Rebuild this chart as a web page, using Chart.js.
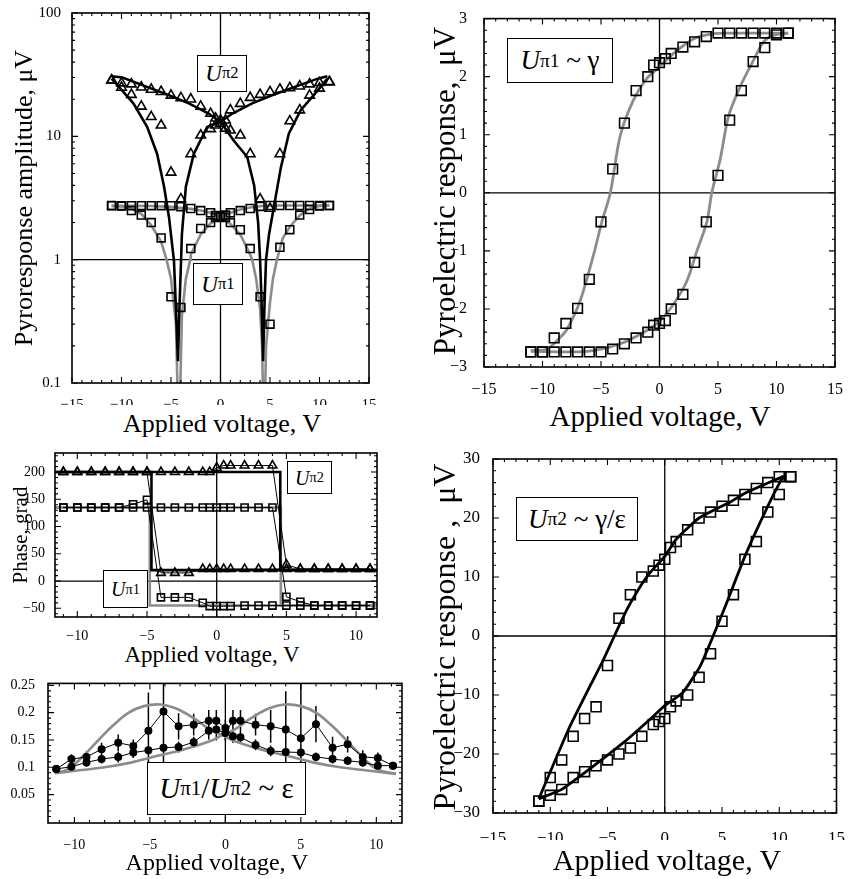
<!DOCTYPE html>
<html>
<head>
<meta charset="utf-8">
<script src="https://cdn.jsdelivr.net/npm/chart.js@4.4.1/dist/chart.umd.min.js"></script>
<style>
body{margin:0;background:#fff;width:852px;height:879px;position:relative;overflow:hidden;font-family:"Liberation Serif","Times New Roman",serif;color:#000;}
canvas{position:absolute;}
.lab{position:absolute;white-space:nowrap;line-height:1;transform:translate(-50%,-50%);}
.rot{transform:translate(-50%,-50%) rotate(-90deg);}
.box{position:absolute;background:#fff;border:1.5px solid #000;box-sizing:border-box;display:flex;align-items:center;justify-content:center;white-space:nowrap;line-height:1;}
.box sub{font-size:0.72em;vertical-align:-0.32em;}
</style>
</head>
<body>
<canvas id="amp" width="385" height="405" style="left:0;top:0"></canvas>
<canvas id="gam" width="432" height="395" style="left:420px;top:0"></canvas>
<canvas id="phase" width="395" height="200" style="left:0;top:440px"></canvas>
<canvas id="ratio" width="415" height="180" style="left:0;top:670px"></canvas>
<canvas id="u2" width="432" height="400" style="left:420px;top:440px"></canvas>

<div class="lab rot" style="left:24px;top:198px;font-size:26px">Pyroresponse amplitude, μV</div>
<div class="lab" style="left:222px;top:424px;font-size:26px">Applied voltage, V</div>
<div class="lab rot" style="left:444px;top:191px;font-size:31px">Pyroelectric response,&nbsp; μV</div>
<div class="lab" style="left:660px;top:416px;font-size:29px">Applied voltage, V</div>
<div class="lab rot" style="left:20px;top:535px;font-size:21px">Phase, grad</div>
<div class="lab" style="left:212px;top:654px;font-size:23px">Applied voltage, V</div>
<div class="lab" style="left:217px;top:862px;font-size:24px">Applied voltage, V</div>
<div class="lab rot" style="left:444px;top:637px;font-size:32px">Pyroelectric response ,&nbsp; μV</div>
<div class="lab" style="left:667px;top:860px;font-size:30px">Applied voltage, V</div>

<div class="box" style="left:197px;top:55px;width:50px;height:37px;font-size:23px"><i>U</i><sub>π2</sub></div>
<div class="box" style="left:193px;top:263px;width:50px;height:42px;font-size:23px"><i>U</i><sub>π1</sub></div>
<div class="box" style="left:507px;top:38px;width:106px;height:45px;font-size:27px"><i>U</i><sub>π1</sub>&nbsp;~ γ</div>
<div class="box" style="left:287px;top:461px;width:45px;height:33px;font-size:20px"><i>U</i><sub>π2</sub></div>
<div class="box" style="left:103px;top:570px;width:45px;height:38px;font-size:20px"><i>U</i><sub>π1</sub></div>
<div class="box" style="left:147px;top:762px;width:159px;height:53px;font-size:29px"><i>U</i><sub>π1</sub>/<i>U</i><sub>π2</sub>&nbsp;~ ε</div>
<div class="box" style="left:516px;top:497px;width:122px;height:44px;font-size:27px"><i>U</i><sub>π2</sub>&nbsp;~ γ/ε</div>

<script>
// voltage grid used by the measurements
const volts = [-11,-10,-9,-8,-7,-6,-5,-4,-3,-2,-1,-0.5,0,0.5,1,2,3,4,5,6,7,8,9,10,11];

// --- top-left: amplitude (log), triangles = U_pi2, squares = U_pi1
const ampTriA = [28.5,27,26.5,25,24,23,21.5,20.5,20,17.5,15.3,14,13.5,11.6,11.2,10.2,7.2,3.1,2.6,7.2,13.3,16.3,21.5,24.5,27.5];
const ampTriB = [28.5,24.9,21.8,17.5,14.4,12.3,5.1,3.1,7.2,10.2,11.5,12.3,12.7,13.5,16.3,18.4,20.6,21.8,22.9,24,24.7,25.5,26.5,27.2,27.7];
const ampSqA = [2.74,2.74,2.74,2.74,2.74,2.74,2.74,2.69,2.6,2.5,2.4,2.28,2.25,2.2,2.0,1.75,1.23,0.5,0.3,1.26,1.75,2.3,2.55,2.72,2.75];
const ampSqB = [2.75,2.72,2.5,2.3,2.0,1.5,0.5,0.41,1.23,1.79,2.0,2.2,2.25,2.3,2.4,2.5,2.6,2.7,2.75,2.75,2.75,2.75,2.75,2.75,2.75];
const ampFitAx = [-11,-9.9,-7.9,-5.2,-3.2,-1.2,0,1.35,2.7,3.4,3.8,4.0,4.15,4.3,4.45,4.6,4.9,5.4,6.1,6.9,8.1,9.4,10.8];
const ampFitAy = [30.7,30,26,21.5,18.5,15.3,13.1,9.2,6.8,4,2,1.0,0.45,0.15,0.45,1.0,1.6,2.7,5.6,10.5,16.3,21.5,29.4];
const ampFitBx = [-11,-10.1,-8.8,-7.4,-6.4,-5.7,-5.2,-4.7,-4.5,-4.3,-4.15,-4.0,-3.9,-3.5,-2.7,-1.35,0,1.2,3.2,5.2,8.0,9.9,10.8];
const ampFitBy = [29.4,24.4,18.5,11.9,7.2,3.9,2.2,0.98,0.4,0.15,0.4,0.9,1.6,3.9,7.2,11.9,13.1,15.3,18.5,21.5,26,29.5,30.7];
const ampGrayAx = [-11,-9,-7,-5,-3,-2,-1,0,1,2,3,3.2,3.6,4,4.2,4.4,4.6,5,5.3,5.7,6.3,7,8,9,10,11];
const ampGrayAy = [2.73,2.73,2.72,2.68,2.58,2.5,2.4,2.2,1.95,1.6,1.1,1.0,0.7,0.4,0.2,0.03,0.2,0.45,0.7,1.0,1.5,1.85,2.28,2.6,2.72,2.75];
const ampGrayBx = [-11,-10,-9,-8,-7,-6,-5.45,-5,-4.5,-4.2,-3.9,-3.5,-3.05,-3,-2,-1,0,1,2,3,4.6,11];
const ampGrayBy = [2.73,2.7,2.6,2.35,1.9,1.4,1.0,0.7,0.3,0.03,0.35,0.7,1.0,1.1,1.6,1.97,2.2,2.4,2.55,2.65,2.75,2.75];

// --- top-right: U_pi1 ~ gamma hysteresis
const gamDown = [-2.74,-2.74,-2.5,-2.25,-1.99,-1.49,-0.5,0.41,1.2,1.76,2.0,2.2,2.24,2.31,2.4,2.51,2.6,2.69,2.75,2.75,2.75,2.75,2.75,2.75,2.75];
const gamUp = [-2.74,-2.74,-2.74,-2.74,-2.74,-2.74,-2.74,-2.69,-2.6,-2.5,-2.4,-2.28,-2.25,-2.2,-2.0,-1.75,-1.2,-0.5,0.3,1.25,1.76,2.26,2.5,2.72,2.75];
const gamFitDx = [11,8,6,4.6,2.9,1.2,0,-1.08,-2.22,-3.36,-4.2,-4.93,-5.64,-6.78,-7.9,-8.5,-9.6,-11];
const gamFitDy = [2.75,2.75,2.75,2.74,2.65,2.4,2.17,1.97,1.6,0.98,0,-0.5,-1.07,-1.86,-2.35,-2.49,-2.69,-2.72];
const gamFitUx = [-11,-6.2,-3.36,-1.08,0.06,1.2,2.34,3.2,4.05,4.47,5.19,5.9,6.9,8.03,8.9,9.74,11];
const gamFitUy = [-2.73,-2.73,-2.6,-2.37,-2.2,-1.92,-1.52,-1.0,-0.5,0,0.58,1.32,1.83,2.28,2.6,2.71,2.75];

// --- middle-left: phase
const phTriUp = [200,200,200,200,200,200,200,200,200,200,200,200,208,212,212,212,212,212,30,22,22,22,22,22,22];
const phTriDown = [200,200,200,200,200,200,200,15,15,15,22,22,22,22,22,22,22,22,22,22,22,22,22,22,22];
const phSqUp = [135,135,135,135,135,135,135,135,135,135,135,135,135,135,135,135,135,135,-29,-38,-45,-45,-45,-45,-45];
const phSqDown = [135,135,135,135,135,141,149,-30,-30,-30,-40,-46,-46,-46,-46,-45,-45,-45,-45,-45,-45,-45,-45,-45,-45];
const stepTriUpX = [-11.6,4.56,4.56,11.5], stepTriUpY = [200,200,20,20];
const stepTriDnX = [11.5,-4.68,-4.68,-11.6], stepTriDnY = [20,20,200,200];
const stepSqUpX = [-11.6,4.6,4.6,11.5], stepSqUpY = [135,135,-45,-45];
const stepSqDnX = [11.5,-4.8,-4.8,-11.6], stepSqDnY = [-45,-45,135,135];

// --- bottom-left: ratio U_pi1/U_pi2
const ratioX = [-11.2,-10.2,-9.2,-8.2,-7.1,-6.1,-5.1,-4.1,-3.1,-2.1,-1.1,-0.6,0,0.5,1,2,3,4,5,6,7.1,8.1,9.1,10.1,11.1];
const ratioDown = [0.097,0.115,0.119,0.133,0.145,0.139,0.167,0.202,0.175,0.178,0.185,0.185,0.172,0.157,0.155,0.141,0.13,0.128,0.127,0.119,0.115,0.112,0.109,0.103,0.103];
const ratioUp = [0.097,0.101,0.109,0.115,0.119,0.127,0.131,0.136,0.137,0.146,0.167,0.169,0.163,0.185,0.185,0.178,0.175,0.169,0.153,0.179,0.136,0.142,0.119,0.117,0.103];
const errDown = [0.005,0.009,0.01,0.012,0.015,0.012,0.07,0.1,0.024,0.02,0.02,0.02,0.015,0.012,0.012,0.01,0.01,0.01,0.01,0.008,0.008,0.008,0.008,0.008,0.006];
const errUp = [0.005,0.008,0.008,0.008,0.01,0.01,0.01,0.01,0.01,0.01,0.016,0.02,0.015,0.02,0.02,0.02,0.03,0.07,0.1,0.033,0.02,0.015,0.012,0.01,0.006];
const epsLx = [-11.3,-10.4,-9.3,-8.4,-7.5,-6.4,-5.4,-4.3,-3.3,-2.1,-1.0,-0.2,0.6,2.3,4.1,5.8,7.6,9.4,11.3];
const epsLy = [0.089,0.097,0.124,0.15,0.175,0.2,0.212,0.215,0.208,0.19,0.169,0.159,0.148,0.133,0.121,0.109,0.1,0.094,0.088];
const epsRx = [-11.3,-9.8,-8.0,-6.2,-4.5,-2.7,-1.0,-0.2,0.6,1.7,2.9,3.9,5.0,6.0,7.1,8.0,8.9,10.0,11.3];
const epsRy = [0.089,0.094,0.1,0.109,0.121,0.133,0.148,0.159,0.169,0.19,0.208,0.215,0.212,0.2,0.175,0.15,0.124,0.097,0.088];

// --- bottom-right: U_pi2 ~ gamma/eps hysteresis
const u2Down = [-28,-24,-21,-17,-14,-12,-5,3,7,10,11,12,13,15,16,18,20,21,22,23,24,25,26,27,27];
const u2Up = [-28,-27,-26,-24,-23,-22,-21,-20,-19,-17,-15,-14.5,-14,-12,-11,-10,-7,-3,2.5,7,13,16,21,24,27];
const u2FitDx = [10.4,7,5.8,3,1,0,-1.3,-2.3,-3.3,-4.4,-5.4,-6.4,-8.4,-11];
const u2FitDy = [27.1,24.2,22.8,20,16.4,13.5,10.7,7.9,4.5,0,-4.2,-8.0,-15.8,-27.6];
const u2FitUx = [-11,-9,-6.4,-3.56,-1.28,0,1.57,3.1,4.1,5.3,7,9,10.1,10.4];
const u2FitUy = [-27.6,-26,-22.3,-18,-14.1,-11.8,-9.6,-5.1,-0.6,5.1,13.5,22,26.2,27];

const GRAY = '#8c8c8c';
const pts = (xs, ys) => xs.map((x, i) => ({x: x, y: ys[i]}));
const steps = (a, b, s) => { const r = []; for (let v = a; v <= b + 1e-9; v += s) r.push(+v.toFixed(4)); return r; };
const label = v => (v < 0 ? '\u2212' + Math.abs(v) : String(v));
const logMinor = [];
[0.1, 1, 10].forEach(d => { for (let k = 2; k <= 9; k++) logMinor.push(d * k); });

function marks(data, style, r, fill) {
  return {data, showLine: false, pointStyle: style, pointRadius: r, pointBorderWidth: 1.6,
    pointBorderColor: '#000', pointBackgroundColor: fill || 'rgba(0,0,0,0)'};
}
function curve(data, color, w, tension) {
  return {data, showLine: true, pointRadius: 0, borderColor: color, borderWidth: w, tension: tension || 0};
}

// zero lines, frame, inward ticks on all sides
const frame = {
  id: 'frame',
  beforeDatasetsDraw(chart, args, o) {
    const {ctx, chartArea: a, scales: {x, y}} = chart;
    ctx.save();
    ctx.strokeStyle = '#000';
    ctx.lineWidth = 1.3;
    ctx.beginPath();
    if (o.refX !== undefined) { const p = x.getPixelForValue(o.refX); ctx.moveTo(p, a.top); ctx.lineTo(p, a.bottom); }
    if (o.refY !== undefined) { const p = y.getPixelForValue(o.refY); ctx.moveTo(a.left, p); ctx.lineTo(a.right, p); }
    ctx.stroke();
    ctx.restore();
  },
  afterDraw(chart, args, o) {
    const {ctx, chartArea: a, scales: {x, y}} = chart;
    ctx.save();
    ctx.strokeStyle = '#000';
    ctx.lineWidth = 1.1;
    ctx.beginPath();
    const tx = (vals, len) => vals.forEach(v => {
      if (v < x.min || v > x.max) return;
      const p = x.getPixelForValue(v);
      ctx.moveTo(p, a.bottom); ctx.lineTo(p, a.bottom - len);
      ctx.moveTo(p, a.top); ctx.lineTo(p, a.top + len);
    });
    const ty = (vals, len) => vals.forEach(v => {
      if (v < y.min || v > y.max) return;
      const p = y.getPixelForValue(v);
      ctx.moveTo(a.left, p); ctx.lineTo(a.left + len, p);
      ctx.moveTo(a.right, p); ctx.lineTo(a.right - len, p);
    });
    tx(o.xMinor, 3); tx(o.xMajor, 6);
    ty(o.yMinor, 3); ty(o.yMajor, 6);
    ctx.stroke();
    ctx.lineWidth = 1.6;
    ctx.strokeRect(a.left, a.top, a.right - a.left, a.bottom - a.top);
    ctx.restore();
  }
};

// vertical error bars
const errBars = {
  id: 'errBars',
  beforeDatasetsDraw(chart, args, o) {
    if (!o.sets) return;
    const {ctx, chartArea: a, scales: {x, y}} = chart;
    ctx.save();
    ctx.beginPath();
    ctx.rect(a.left, a.top, a.right - a.left, a.bottom - a.top);
    ctx.clip();
    ctx.strokeStyle = '#000';
    ctx.lineWidth = 1.5;
    ctx.beginPath();
    o.sets.forEach(s => s.x.forEach((xv, i) => {
      const p = x.getPixelForValue(xv);
      ctx.moveTo(p, y.getPixelForValue(s.y[i] - s.e[i]));
      ctx.lineTo(p, y.getPixelForValue(s.y[i] + s.e[i]));
    }));
    ctx.stroke();
    ctx.restore();
  }
};

function mk(id, datasets, o) {
  const font = {family: '"Liberation Serif", "Times New Roman", serif', size: o.fs};
  return new Chart(document.getElementById(id), {
    type: 'scatter',
    data: {datasets},
    plugins: [frame, errBars],
    options: {
      responsive: false, animation: false, devicePixelRatio: 1,
      layout: {padding: {top: o.pad[0], right: o.pad[1], left: 0, bottom: 0}},
      plugins: {legend: {display: false}, tooltip: {enabled: false},
        frame: {refX: o.refX, refY: o.refY, xMajor: o.xt, yMajor: o.yt, xMinor: o.xm, yMinor: o.ym},
        errBars: {sets: o.err}},
      scales: {
        x: {type: 'linear', min: o.x[0], max: o.x[1], grid: {display: false}, border: {display: false},
          afterFit: s => { s.height = o.xh; },
          afterBuildTicks: s => { s.ticks = o.xt.map(v => ({value: v})); },
          ticks: {font, color: '#000', padding: o.xp, maxRotation: 0, autoSkip: false, callback: label}},
        y: {type: o.log ? 'logarithmic' : 'linear', min: o.y[0], max: o.y[1], grid: {display: false}, border: {display: false},
          afterFit: s => { s.width = o.yw; },
          afterBuildTicks: s => { s.ticks = o.yt.map(v => ({value: v})); },
          ticks: {font, color: '#000', padding: o.yp, autoSkip: false, callback: label}}
      }
    }
  });
}

mk('amp', [
  marks(pts(volts, ampTriA), 'triangle', 5.5),
  marks(pts(volts, ampTriB), 'triangle', 5.5),
  marks(pts(volts, ampSqA), 'rect', 5.6),
  marks(pts(volts, ampSqB), 'rect', 5.6),
  curve(pts(ampFitAx, ampFitAy), '#000', 2.6),
  curve(pts(ampFitBx, ampFitBy), '#000', 2.6),
  curve(pts(ampGrayAx, ampGrayAy), GRAY, 2.6),
  curve(pts(ampGrayBx, ampGrayBy), GRAY, 2.6)
], {x: [-15, 15], y: [0.1, 100], log: true, pad: [13, 16], yw: 72, xh: 22, fs: 15, xp: 5, yp: 3,
  xt: steps(-15, 15, 5), yt: [0.1, 1, 10, 100], xm: steps(-15, 15, 1), ym: logMinor, refX: 0, refY: 1});

mk('gam', [
  marks(pts(volts, gamDown), 'rect', 6.8),
  marks(pts(volts, gamUp), 'rect', 6.8),
  curve(pts(gamFitDx, gamFitDy), GRAY, 2.8, 0.3),
  curve(pts(gamFitUx, gamFitUy), GRAY, 2.8, 0.3)
], {x: [-15, 15], y: [-3, 3], pad: [15, 17], yw: 64, xh: 28, fs: 16, xp: 5, yp: 9,
  xt: steps(-15, 15, 5), yt: steps(-3, 3, 1), xm: steps(-15, 15, 1), ym: steps(-3, 3, 0.2), refX: 0, refY: 0});

mk('phase', [
  Object.assign(marks(pts(volts, phTriUp), 'triangle', 5), {showLine: true, borderColor: '#000', borderWidth: 1}),
  Object.assign(marks(pts(volts, phTriDown), 'triangle', 5), {showLine: true, borderColor: '#000', borderWidth: 1}),
  Object.assign(marks(pts(volts, phSqUp), 'rect', 5), {showLine: true, borderColor: '#000', borderWidth: 1}),
  Object.assign(marks(pts(volts, phSqDown), 'rect', 5), {showLine: true, borderColor: '#000', borderWidth: 1}),
  curve(pts(stepTriUpX, stepTriUpY), '#000', 2.6),
  curve(pts(stepTriDnX, stepTriDnY), '#000', 2.6),
  curve(pts(stepSqUpX, stepSqUpY), GRAY, 2.6),
  curve(pts(stepSqDnX, stepSqDnY), GRAY, 2.6)
], {x: [-11.6, 11.5], y: [-66, 235], pad: [13, 18], yw: 55, xh: 23, fs: 14, xp: 3, yp: 2,
  xt: steps(-10, 10, 5), yt: steps(-50, 200, 50), xm: steps(-11, 11, 1), ym: steps(-60, 230, 10), refX: 0, refY: 0});

mk('ratio', [
  Object.assign(marks(pts(ratioX, ratioDown), 'circle', 3.2, '#000'), {showLine: true, borderColor: '#000', borderWidth: 1}),
  Object.assign(marks(pts(ratioX, ratioUp), 'circle', 3.2, '#000'), {showLine: true, borderColor: '#000', borderWidth: 1}),
  curve(pts(epsLx, epsLy), GRAY, 2.6, 0.4),
  curve(pts(epsRx, epsRy), GRAY, 2.6, 0.4)
], {x: [-11.75, 11.7], y: [-0.002, 0.2536], pad: [11, 13], yw: 48, xh: 27, fs: 14, xp: 6, yp: 5,
  xt: steps(-10, 10, 5), yt: [0.05, 0.1, 0.15, 0.2, 0.25], xm: steps(-11, 11, 1), ym: steps(0.01, 0.25, 0.01), refX: 0,
  err: [{x: ratioX, y: ratioDown, e: errDown}, {x: ratioX, y: ratioUp, e: errUp}]});

mk('u2', [
  marks(pts(volts, u2Down), 'rect', 7),
  marks(pts(volts, u2Up), 'rect', 7),
  curve(pts(u2FitDx, u2FitDy), '#000', 2.8, 0.15),
  curve(pts(u2FitUx, u2FitUy), '#000', 2.8, 0.15)
], {x: [-15, 15], y: [-30, 30], pad: [19, 8], yw: 73, xh: 27, fs: 17, xp: 7, yp: 5,
  xt: steps(-15, 15, 5), yt: steps(-30, 30, 10), xm: steps(-15, 15, 1), ym: steps(-30, 30, 2), refX: 0, refY: 0});
</script>
</body>
</html>
